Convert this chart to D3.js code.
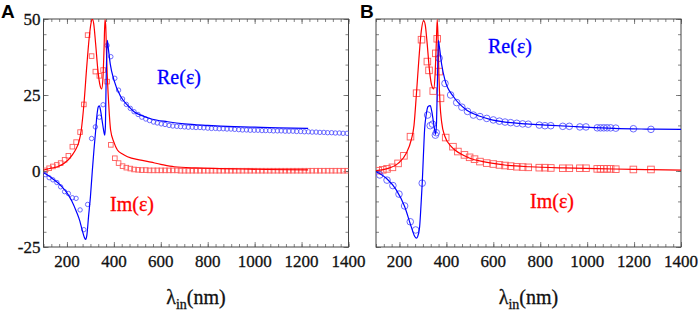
<!DOCTYPE html>
<html>
<head>
<meta charset="utf-8">
<script src="https://cdn.jsdelivr.net/npm/d3@7"></script>
<style>
	body { margin: 0; background: #fff; }
</style>
</head>
<body>
<div id="graphic"></div>
<script>
// ---- panel A : measured points (every ~16.5 nm) ----
const aWave = [107,124,140,157,173,190,206,223,239,256,
	272,288,305,321,338,354,371,387,404,420,
	437,453,470,486,503,519,536,552,569,585,
	602,618,635,651,668,684,701,717,734,750,
	767,783,800,816,833,849,866,882,899,915,
	932,948,965,981,998,1014,1031,1047,1064,1080,
	1097,1113,1130,1146,1163,1179,1196,1212,1229,1245,
	1262,1278,1295,1311,1328,1344,1361,1377,1394];
const aRe = [-1.2,-2.2,-2.9,-3.8,-5.2,-6.8,-7.4,-8.8,-9.0,-12.8,
	-19.3,-11.0,10.7,14.5,17.7,21.8,41.3,37.6,30.5,26.6,
	23.7,21.9,20.6,19.5,18.6,17.7,17.1,16.6,16.1,15.8,
	15.5,15.3,15.0,14.8,14.7,14.6,14.5,14.4,14.4,14.3,
	14.3,14.2,14.1,14.0,14.0,13.9,13.9,13.8,13.8,13.7,
	13.6,13.5,13.5,13.4,13.4,13.4,13.3,13.3,13.3,13.2,
	13.2,13.2,13.1,13.1,13.1,13.0,13.0,12.9,12.9,12.8,
	12.8,12.7,12.7,12.6,12.6,12.5,12.5,12.4,12.4];
const aIm = [0.2,0.9,1.5,2.0,2.6,3.7,5.0,8.0,9.5,12.8,
	21.9,44.7,37.8,32.7,31.3,33.2,29.4,8.6,4.2,2.6,
	1.6,1.1,0.8,0.5,0.4,0.3,0.3,0.2,0.2,0.2,
	0.2,0.2,0.2,0.2,0.2,0.1,0.1,0.1,0.1,0.1,
	0.1,0.1,0.1,0.1,0.1,0.1,0.1,0.1,0.1,0.1,
	0.1,0.1,0.1,0.1,0.1,0.1,0.1,0.1,0.1,0.1,
	0.1,0.1,0.1,0.1,0.1,0.1,0.1,0.1,0.1,0.1,
	0.1,0.1,0.1,0.1,0.1,0.1,0.1,0.1,0.1];

// ---- panel A : model curves ----
const aReLineWave = [100,120,140,160,180,200,220,240,255,265,275,280,285,292,300,308,315,322,328,334,
	338,343,350,356,361,364,367,370,372,376,385,400,429,460,486,520,560,629,700,800,913,1000,1100,1228];
const aReLine = [-0.6,-1.5,-2.6,-3.8,-5.3,-7.2,-9.8,-13.3,-16.5,-19.5,-22.0,-22.5,-21.0,-15.0,-8.5,0.0,6.9,13.0,18.5,21.2,
	21.4,20.0,16.5,13.5,11.8,15.0,30.0,40.0,43.0,40.5,35.0,30.0,24.5,21.5,19.5,18.2,17.1,16.2,15.5,15.0,14.6,14.4,14.2,14.0];
const aImLineWave = [100,130,160,190,223,240,251,261,272,285,295,303,308,314,322,332,340,348,353,358,
	362,365,370,378,386,400,415,435,458,515,558,600,657,750,850,943,1050,1228];
const aImLine = [0.3,0.9,1.4,2.6,5.3,7.5,9.6,13.5,21.7,35.0,44.0,48.8,50.0,48.5,42.0,33.0,28.5,27.0,30.0,40.0,
	49.8,48.0,35.0,22.0,13.5,9.5,6.9,5.7,4.7,3.6,2.9,2.2,1.4,1.0,0.8,0.66,0.5,0.4];

// ---- panel B : measured points ----
const bReWave = [116,147,172,198,222,246,269,297,320,331,341,353,357,369,394,418,444,466,490,515,
	543,572,600,626,650,674,700,725,749,796,820,845,896,924,969,995,1043,1057,1071,1085,1100,1122,1197,1272];
const bRe = [-1.3,-3.0,-4.8,-7.6,-11.5,-16.7,-19.4,-4.0,18.4,14.9,15.4,11.8,12.6,37.1,28.8,25.0,22.5,21.0,19.6,18.4,
	17.9,17.3,16.8,16.4,16.1,15.9,15.7,15.5,15.4,15.1,14.9,14.9,14.7,14.7,14.5,14.5,14.2,14.2,14.2,14.2,14.2,14.1,13.9,13.7];
const bImWave = [110,129,147,170,194,219,247,273,294,319,326,344,355,361,369,375,397,428,449,477,
	499,520,543,572,600,626,650,674,700,725,749,796,820,845,896,924,969,995,1043,1057,1071,1085,1100,1122,1197,1272];
const bIm = [0.1,0.4,0.7,1.2,2.5,5.0,11.3,25.6,43.2,36.0,33.1,26.3,38.7,43.5,32.7,23.9,11.0,8.0,6.4,5.3,
	4.5,3.9,3.1,2.6,2.3,2.0,1.8,1.6,1.4,1.3,1.2,1.1,1.1,1.0,0.9,0.9,0.9,0.9,0.7,0.7,0.7,0.7,0.7,0.6,0.5,0.5];

// ---- panel B : model curves ----
const bReLineWave = [100,144,187,222,250,265,272,278,286,292,297,302,307,314,322,331,338,345,351,354,
	358,362,366,370,380,394,430,487,543,586,650,742,827,950,1112,1250,1400];
const bReLine = [-0.2,-2.4,-6.3,-11.7,-18.3,-21.5,-22.1,-21.5,-18.3,-11.0,-4.0,5.0,13.5,18.5,21.2,21.5,19.5,16.0,13.0,12.0,
	16.0,30.0,43.0,41.0,35.0,29.9,24.5,20.0,18.0,17.0,16.1,15.5,15.1,14.6,14.0,13.8,13.7];
const bImLineWave = [100,144,194,229,250,262,272,283,293,303,310,318,328,338,346,352,357,361,364,368,
	373,380,393,421,457,500,556,600,656,756,900,1112,1250,1400];
const bImLine = [0.1,0.7,2.5,5.8,10.2,15.0,25.0,37.0,46.0,49.5,48.0,42.0,33.0,28.0,27.0,32.0,42.0,49.8,45.0,32.0,
	22.0,16.0,11.5,8.0,5.8,4.2,3.1,2.5,1.9,1.4,1.0,0.66,0.45,0.3];

const xTicks = [200,400,600,800,1000,1200,1400];
const yTicks = [-25,0,25,50];

const width = 699, height = 315;
const blue = '#0000ff', red = '#ff0000';
const serif = '"Liberation Serif"';

let svg = d3.select('#graphic')
	.append('svg')
	.attr('width', width)
	.attr('height', height);

const panels = [
	{ key: 'A', left: 43.5, right: 348.5, letterX: 1, showY: true,
		reWave: aWave, re: aRe, imWave: aWave, im: aIm, r: 2.2, sq: 4.6,
		reLine: [aReLineWave, aReLine], imLine: [aImLineWave, aImLine],
		reText: [157, 84], imText: [110, 211] },
	{ key: 'B', left: 376, right: 681, letterX: 360, showY: false,
		reWave: bReWave, re: bRe, imWave: bImWave, im: bIm, r: 3.3, sq: 6.6,
		reLine: [bReLineWave, bReLine], imLine: [bImLineWave, bImLine],
		reText: [488, 53], imText: [530, 208] }
];

const plotTop = 19, plotBottom = 247;

// slightly heavier serif text, like the scaled-down original
function serifText(sel, size, colour) {
	sel.style('font-family', serif)
		.style('font-size', size + 'px')
		.attr('fill', colour)
		.attr('stroke', colour)
		.attr('stroke-width', 0.3);
}

function drawPanel(p) {
	const x = d3.scaleLinear().domain([100, 1400]).range([p.left, p.right]);
	const y = d3.scaleLinear().domain([-25, 50]).range([plotBottom, plotTop]);
	const g = svg.append('g');

	// clip
	g.append('clipPath').attr('id', 'clip' + p.key)
		.append('rect')
		.attr('x', p.left).attr('y', plotTop)
		.attr('width', p.right - p.left).attr('height', plotBottom - plotTop);

	const xMinor = d3.range(100, 1401, 200 / 6);
	const yMinor = d3.range(-25, 51, 5);

	function tickAxes(gen, scale, vals, size, tr) {
		const ax = g.append('g')
			.attr('transform', tr)
			.call(gen(scale).tickValues(vals).tickSize(-size).tickFormat(''));
		ax.select('.domain').remove();
		ax.selectAll('line').attr('stroke', '#666').attr('stroke-width', 0.8);
	}
	// minor + major ticks on all four sides, pointing inward
	tickAxes(d3.axisBottom, x, xMinor, 3, `translate(0,${plotBottom})`);
	tickAxes(d3.axisTop, x, xMinor, 3, `translate(0,${plotTop})`);
	tickAxes(d3.axisBottom, x, xTicks, 5, `translate(0,${plotBottom})`);
	tickAxes(d3.axisTop, x, xTicks, 5, `translate(0,${plotTop})`);
	tickAxes(d3.axisLeft, y, yMinor, 3, `translate(${p.left},0)`);
	tickAxes(d3.axisRight, y, yMinor, 3, `translate(${p.right},0)`);
	tickAxes(d3.axisLeft, y, yTicks, 5, `translate(${p.left},0)`);
	tickAxes(d3.axisRight, y, yTicks, 5, `translate(${p.right},0)`);

	// tick labels
	g.append('g').selectAll('text')
		.data(xTicks).join('text')
		.attr('x', d => x(d)).attr('y', 267)
		.attr('text-anchor', 'middle')
		.call(serifText, 17, '#111')
		.text(d => d);

	if (p.showY) {
		g.append('g').selectAll('text')
			.data(yTicks).join('text')
			.attr('x', p.left - 3).attr('y', d => y(d) + 5.5)
			.attr('text-anchor', 'end')
			.call(serifText, 17, '#111')
			.text(d => d);
	}

	// frame
	g.append('rect')
		.attr('x', p.left).attr('y', plotTop)
		.attr('width', p.right - p.left).attr('height', plotBottom - plotTop)
		.attr('fill', 'none').attr('stroke', '#444').attr('stroke-width', 1);

	const plot = g.append('g').attr('clip-path', `url(#clip${p.key})`);

	const line = d3.line()
		.x(d => x(d[0])).y(d => y(d[1]))
		.curve(d3.curveMonotoneX);

	// markers
	plot.append('g').selectAll('rect')
		.data(d3.zip(p.imWave, p.im)).join('rect')
		.attr('x', d => x(d[0]) - p.sq / 2)
		.attr('y', d => y(d[1]) - p.sq / 2)
		.attr('width', p.sq).attr('height', p.sq)
		.attr('fill', 'none').attr('stroke', '#ff5a5a').attr('stroke-width', 0.9);

	plot.append('g').selectAll('circle')
		.data(d3.zip(p.reWave, p.re)).join('circle')
		.attr('cx', d => x(d[0])).attr('cy', d => y(d[1]))
		.attr('r', p.r)
		.attr('fill', 'none').attr('stroke', '#5a5aff').attr('stroke-width', 0.9);

	// model lines
	plot.append('path')
		.datum(d3.zip(p.imLine[0], p.imLine[1]))
		.attr('d', line)
		.attr('fill', 'none').attr('stroke', red).attr('stroke-width', 1.2);

	plot.append('path')
		.datum(d3.zip(p.reLine[0], p.reLine[1]))
		.attr('d', line)
		.attr('fill', 'none').attr('stroke', blue).attr('stroke-width', 1.2);

	// series labels
	g.append('text')
		.attr('x', p.reText[0]).attr('y', p.reText[1])
		.call(serifText, 20, blue)
		.text('Re(ε)');
	g.append('text')
		.attr('x', p.imText[0]).attr('y', p.imText[1])
		.call(serifText, 20, red)
		.text('Im(ε)');

	// axis title
	const t = g.append('text')
		.attr('x', (p.left + p.right) / 2).attr('y', 304)
		.attr('text-anchor', 'middle')
		.call(serifText, 20, '#111');
	t.append('tspan').text('λ');
	t.append('tspan').style('font-size', '14px').attr('dy', 5).text('in');
	t.append('tspan').attr('dy', -5).text('(nm)');

	// panel letter
	svg.append('text')
		.attr('x', p.letterX).attr('y', 18)
		.style('font-size', '19px')
		.style('font-weight', 'bold')
		.style('font-family', '"Liberation Sans"')
		.text(p.key);
}

panels.forEach(drawPanel);
</script>
</body>
</html>
